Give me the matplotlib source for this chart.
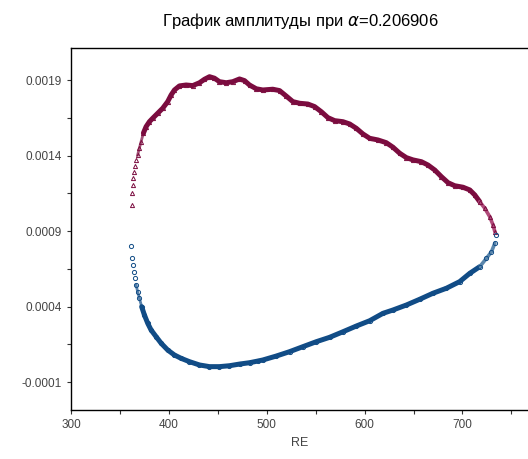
import numpy as np
import matplotlib
matplotlib.use('Agg')
import matplotlib.pyplot as plt
import matplotlib.ticker as mt

plt.rcParams['font.family'] = ['Liberation Sans', 'DejaVu Sans']

# upper branch (triangles)
re_up = [362.0, 362.4, 363.0, 363.7, 364.8, 365.8, 366.5, 368.1, 369.9, 371.6,
         374.0, 376.7, 380.1, 383.5, 388.6, 393.7, 398.8, 402.3, 405.7, 410.8,
         417.6, 424.4, 431.3, 436.4, 441.5, 446.6, 451.7, 458.6, 465.3, 472.2,
         477.3, 482.4, 489.3, 496.0, 506.2, 513.1, 519.9, 526.7, 533.6, 542.0,
         548.9, 555.8, 562.5, 569.4, 577.9, 584.7, 591.6, 598.3, 605.2, 613.7,
         622.2, 629.0, 635.9, 642.7, 649.5, 658.1, 664.8, 671.7, 678.5, 685.3,
         692.1, 700.6, 707.5, 712.6, 717.7, 722.8, 727.9, 731.3, 733.1]
im_up = [0.001073, 0.001151, 0.001206, 0.001250, 0.001294, 0.001332, 0.001372,
         0.001405, 0.001451, 0.001493, 0.001550, 0.001592, 0.001625, 0.001648,
         0.001681, 0.001714, 0.001758, 0.001802, 0.001835, 0.001862, 0.001868,
         0.001864, 0.001883, 0.001906, 0.001923, 0.001913, 0.001890, 0.001883,
         0.001890, 0.001908, 0.001897, 0.001868, 0.001843, 0.001835, 0.001840,
         0.001831, 0.001795, 0.001758, 0.001747, 0.001742, 0.001725, 0.001691,
         0.001652, 0.001632, 0.001625, 0.001610, 0.001581, 0.001544, 0.001515,
         0.001504, 0.001486, 0.001456, 0.001416, 0.001387, 0.001372, 0.001360,
         0.001338, 0.001305, 0.001261, 0.001221, 0.001201, 0.001191, 0.001173,
         0.001140, 0.001095, 0.001052, 0.000996, 0.000941, 0.000897]

# lower branch (circles)
re_lo = [361.4, 362.0, 363.0, 364.0, 365.1, 366.5, 368.1, 369.9, 372.2, 375.0,
         378.4, 381.8, 387.0, 392.1, 398.8, 405.7, 412.5, 421.0, 431.3, 441.5,
         451.7, 461.9, 472.2, 482.4, 490.9, 496.0, 509.7, 523.3, 536.9, 550.6,
         564.2, 577.9, 591.6, 605.2, 618.8, 629.0, 642.7, 656.3, 669.9, 683.6,
         697.2, 707.5, 717.7, 724.5, 729.7, 733.1, 734.8]
im_lo = [0.000802, 0.000720, 0.000676, 0.000632, 0.000588, 0.000544, 0.000499,
         0.000456, 0.000400, 0.000345, 0.000290, 0.000246, 0.000201, 0.000158,
         0.000113, 0.000080, 0.000058, 0.000036, 0.000014, 0.000003, 0.000003,
         0.000009, 0.000020, 0.000029, 0.000040, 0.000047, 0.000073, 0.000102,
         0.000135, 0.000168, 0.000197, 0.000234, 0.000272, 0.000307, 0.000356,
         0.000378, 0.000411, 0.000449, 0.000489, 0.000522, 0.000566, 0.000621,
         0.000665, 0.000720, 0.000764, 0.000820, 0.000875]

yticks = [-0.0001, 0.0004, 0.0009, 0.0014, 0.0019]
xticks = [300, 400, 500, 600, 700]

fig = plt.figure(figsize=(5.28, 4.59), dpi=100)
ax = fig.add_axes([0.1345, 0.1068, 0.8655, 0.7886])

c_up = '#7b0c3f'
c_lo = '#114c86'
# dense parts of the point clouds look like a thick band, thinner/lighter at the ends
ax.plot(re_up[7:12], im_up[7:12], color=c_up, lw=2.0, alpha=0.7)
ax.plot(re_up[10:-4], im_up[10:-4], color=c_up, lw=3.6, solid_capstyle='round')
ax.plot(re_up[-5:], im_up[-5:], color='#b04a7a', lw=2.6, solid_capstyle='round')
ax.plot(re_up, im_up, ls='none', marker='^', ms=3, mfc='none', mec=c_up, mew=0.7)
ax.plot(re_lo[5:10], im_lo[5:10], color=c_lo, lw=2.0, alpha=0.7)
ax.plot(re_lo[8:-4], im_lo[8:-4], color=c_lo, lw=3.6, solid_capstyle='round')
ax.plot(re_lo[-5:-1], im_lo[-5:-1], color='#5a86ac', lw=2.6, solid_capstyle='round')
ax.plot(re_lo, im_lo, ls='none', marker='o', ms=3, mfc='none', mec=c_lo, mew=0.7)

ax.set_xlim(300, 767)
ax.set_ylim(-0.000284, 0.002113)
ax.set_xticks(xticks)
ax.xaxis.set_minor_locator(mt.MultipleLocator(50))
ax.set_yticks(yticks)
ax.set_yticklabels(['%.4f' % v for v in yticks])
ax.yaxis.set_minor_locator(mt.FixedLocator([v + 0.00025 for v in yticks]))
ax.tick_params(which='both', direction='out', length=3, width=0.8,
               labelsize=8.5, labelcolor='#444444', color='#333333')
ax.spines['right'].set_visible(False)
for s in ['left', 'bottom', 'top']:
    ax.spines[s].set_linewidth(1.0)

ax.set_xlabel('RE', fontsize=9, color='#444444', labelpad=4)
fig.text(0.568, 0.955, r'График амплитуды при $\alpha$=0.206906',
         ha='center', va='center', fontsize=12)

fig.savefig('out.png', dpi=100)
